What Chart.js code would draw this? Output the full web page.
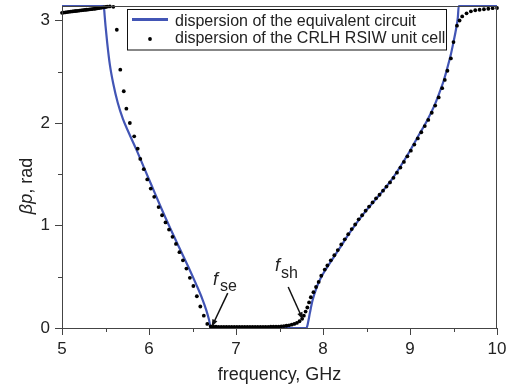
<!DOCTYPE html>
<html>
<head>
<meta charset="utf-8">
<title>CRLH RSIW dispersion</title>
<script src="https://cdn.jsdelivr.net/npm/chart.js@4"></script>
<style>
  body { margin: 0; background: #fff; }
  #wrap { width: 512px; height: 387px; position: relative; }
</style>
</head>
<body>
<div id="wrap"><canvas id="dispChart"></canvas></div>
<script>
// dispersion of the equivalent circuit (solid blue line)
const circuitFreq = [5.00, 5.48, 5.49, 5.50, 5.52, 5.55, 5.59, 5.64, 5.70, 5.77, 5.85, 5.94, 6.03, 6.13, 6.24, 6.35, 6.45, 6.54, 6.61, 6.66, 6.69, 6.71,
  7.81, 7.83, 7.85, 7.88, 7.92, 7.97, 8.03, 8.10, 8.20, 8.30, 8.40, 8.50, 8.60, 8.70, 8.80, 8.90, 9.00, 9.10, 9.20, 9.28, 9.34, 9.39, 9.43, 9.47, 9.50, 9.53, 9.55, 9.56, 10.00];
const circuitBeta = [3.1416, 3.1416, 3.05, 2.95, 2.78, 2.57, 2.38, 2.20, 2.04, 1.90, 1.75, 1.57, 1.39, 1.19, 0.98, 0.78, 0.60, 0.43, 0.29, 0.17, 0.08, 0,
  0, 0.06, 0.15, 0.27, 0.38, 0.48, 0.57, 0.66, 0.79, 0.92, 1.04, 1.15, 1.25, 1.35, 1.46, 1.59, 1.73, 1.88, 2.03, 2.17, 2.30, 2.42, 2.54, 2.67, 2.79, 2.92, 3.03, 3.1416, 3.1416];

// dispersion of the CRLH RSIW unit cell (black dots)
const cellFreq = [5.00, 5.02, 5.04, 5.06, 5.08, 5.10, 5.12, 5.14, 5.16, 5.18, 5.20, 5.22, 5.24, 5.26, 5.28, 5.30, 5.32, 5.34, 5.36, 5.38,
  5.40, 5.42, 5.44, 5.46, 5.48, 5.50, 5.52, 5.55, 5.59,
  5.63, 5.67, 5.71, 5.74, 5.78, 5.83, 5.87, 5.90, 5.94, 5.98, 6.02, 6.06, 6.11, 6.15, 6.19, 6.23, 6.27, 6.31, 6.35, 6.39,
  6.43, 6.47, 6.51, 6.55, 6.59, 6.63, 6.67, 6.71,
  6.74, 6.77, 6.80, 6.83, 6.86, 6.89, 6.92, 6.95, 6.98, 7.01, 7.04, 7.07, 7.10, 7.13, 7.16, 7.19, 7.22, 7.25, 7.28, 7.31,
  7.34, 7.37, 7.40, 7.43, 7.46, 7.49, 7.52, 7.55, 7.58, 7.61, 7.64, 7.67, 7.70, 7.73, 7.76, 7.78, 7.80, 7.82, 7.84, 7.86, 7.89,
  7.92, 7.95, 7.98, 8.02, 8.05, 8.09, 8.13, 8.17, 8.21, 8.25, 8.29, 8.33, 8.37, 8.41, 8.45, 8.49, 8.53, 8.57, 8.61, 8.65,
  8.69, 8.73, 8.77, 8.81, 8.85, 8.89, 8.93, 8.97, 9.01, 9.05, 9.09, 9.13, 9.17, 9.21, 9.25, 9.29, 9.33, 9.37, 9.40, 9.43,
  9.47, 9.50, 9.54, 9.57, 9.60, 9.65, 9.70, 9.75, 9.80, 9.85, 9.90, 9.95, 10.00];
const cellBeta = [3.075, 3.077, 3.080, 3.082, 3.085, 3.087, 3.089, 3.091, 3.093, 3.095, 3.097, 3.099, 3.101, 3.103, 3.105, 3.107, 3.109, 3.111, 3.113, 3.115,
  3.118, 3.120, 3.123, 3.126, 3.129, 3.132, 3.135, 3.137, 3.134,
  2.91, 2.52, 2.31, 2.14, 2.00, 1.87, 1.75, 1.65, 1.55, 1.45, 1.36, 1.28, 1.18, 1.10, 1.03, 0.96, 0.89, 0.82, 0.74, 0.66,
  0.58, 0.49, 0.41, 0.31, 0.21, 0.12, 0.04, 0.015,
  0.012, 0.012, 0.011, 0.011, 0.011, 0.010, 0.010, 0.010, 0.010, 0.010, 0.010, 0.010, 0.010, 0.010, 0.010, 0.010, 0.010, 0.010, 0.010, 0.011,
  0.011, 0.011, 0.012, 0.012, 0.013, 0.014, 0.016, 0.019, 0.022, 0.026, 0.032, 0.040, 0.050, 0.066, 0.090, 0.12, 0.16, 0.20, 0.25, 0.30, 0.35,
  0.40, 0.45, 0.51, 0.57, 0.61, 0.66, 0.71, 0.76, 0.815, 0.865, 0.915, 0.965, 1.01, 1.06, 1.10, 1.145, 1.185, 1.225, 1.265, 1.30,
  1.34, 1.38, 1.42, 1.465, 1.515, 1.565, 1.62, 1.675, 1.73, 1.79, 1.85, 1.91, 1.97, 2.03, 2.10, 2.17, 2.25, 2.34, 2.42, 2.51,
  2.63, 2.79, 2.95, 3.00, 3.04, 3.07, 3.09, 3.10, 3.105, 3.11, 3.115, 3.12, 3.122];

const xTicks = [5, 6, 7, 8, 9, 10];
const yTicks = [0, 1, 2, 3];
const xMinor = [5.5, 6.5, 7.5, 8.5, 9.5];
const yMinor = [0.5, 1.5, 2.5];

const legendLabels = ['dispersion of the equivalent circuit', 'dispersion of the CRLH RSIW unit cell'];

const blue = '#4255b5';
const ink = '#222';
const axisGray = '#444';

function toPoints(xs, ys) {
    return xs.map(function(x, i) { return { x: x, y: ys[i] }; });
}

// frame, minor ticks, axis titles, annotations and legend
const decor = {
    id: 'decor',
    afterDatasetsDraw: function(chart) {
        const c = chart.ctx;
        const a = chart.chartArea;
        const xs = chart.scales.x;
        const ys = chart.scales.y;
        c.save();

        // box around plot
        c.strokeStyle = axisGray;
        c.lineWidth = 1;
        c.strokeRect(a.left + 0.5, a.top + 0.5, a.right - a.left - 1, a.bottom - a.top);

        // minor ticks
        c.beginPath();
        xMinor.forEach(function(v) {
            const px = Math.round(xs.getPixelForValue(v)) + 0.5;
            c.moveTo(px, a.bottom); c.lineTo(px, a.bottom + 4);
        });
        yMinor.forEach(function(v) {
            const py = Math.round(ys.getPixelForValue(v)) + 0.5;
            c.moveTo(a.left, py); c.lineTo(a.left - 4, py);
        });
        c.stroke();

        // x axis title
        c.fillStyle = ink;
        c.font = '18px "Liberation Sans", Arial, sans-serif';
        c.textAlign = 'center';
        c.textBaseline = 'alphabetic';
        c.fillText('frequency, GHz', (a.left + a.right) / 2, 380);

        // y axis title, rotated, "βp" in italic
        c.save();
        c.translate(32, 186);
        c.rotate(-Math.PI / 2);
        c.textAlign = 'left';
        c.font = 'italic 18px "Liberation Sans", Arial, sans-serif';
        const w1 = c.measureText('βp').width;
        c.font = '18px "Liberation Sans", Arial, sans-serif';
        const w2 = c.measureText(', rad').width;
        const start = -(w1 + w2) / 2;
        c.font = 'italic 18px "Liberation Sans", Arial, sans-serif';
        c.fillText('βp', start, 0);
        c.font = '18px "Liberation Sans", Arial, sans-serif';
        c.fillText(', rad', start + w1, 0);
        c.restore();

        // f_se and f_sh labels
        c.textAlign = 'left';
        c.font = 'italic 18px "Liberation Sans", Arial, sans-serif';
        c.fillText('f', 213, 285);
        c.fillText('f', 275, 271);
        c.font = '16px "Liberation Sans", Arial, sans-serif';
        c.fillText('se', 220, 291);
        c.fillText('sh', 281, 278);

        // arrows pointing at the band edges
        function arrow(x0, y0, x1, y1) {
            const p0x = xs.getPixelForValue(x0), p0y = ys.getPixelForValue(y0);
            const p1x = xs.getPixelForValue(x1), p1y = ys.getPixelForValue(y1);
            const ang = Math.atan2(p1y - p0y, p1x - p0x);
            c.strokeStyle = '#111';
            c.lineWidth = 1.5;
            c.beginPath();
            c.moveTo(p0x, p0y);
            c.lineTo(p1x - 5 * Math.cos(ang), p1y - 5 * Math.sin(ang));
            c.stroke();
            c.fillStyle = '#111';
            c.beginPath();
            c.moveTo(p1x, p1y);
            c.lineTo(p1x - 8 * Math.cos(ang - 0.35), p1y - 8 * Math.sin(ang - 0.35));
            c.lineTo(p1x - 8 * Math.cos(ang + 0.35), p1y - 8 * Math.sin(ang + 0.35));
            c.closePath();
            c.fill();
        }
        arrow(6.905, 0.34, 6.72, 0.01);
        arrow(7.60, 0.40, 7.77, 0.08);

        // legend box
        c.fillStyle = '#fff';
        c.fillRect(127.5, 9.5, 319, 40.5);
        c.strokeStyle = '#111';
        c.lineWidth = 1;
        c.strokeRect(127.5, 9.5, 319, 40.5);
        c.strokeStyle = blue;
        c.lineWidth = 3;
        c.beginPath();
        c.moveTo(132, 19.5); c.lineTo(168, 19.5);
        c.stroke();
        c.fillStyle = '#000';
        c.beginPath();
        c.arc(150, 39, 1.9, 0, Math.PI * 2);
        c.fill();
        c.fillStyle = ink;
        c.font = '16px "Liberation Sans", Arial, sans-serif';
        c.fillText(legendLabels[0], 175, 26);
        c.fillText(legendLabels[1], 175, 43);

        c.restore();
    }
};

document.addEventListener('DOMContentLoaded', function() {
    const ctx = document.getElementById('dispChart');
    new Chart(ctx, {
        type: 'scatter',
        data: {
            datasets: [{
                label: legendLabels[1],
                data: toPoints(cellFreq, cellBeta),
                showLine: false,
                pointRadius: 1.9,
                pointBackgroundColor: '#000',
                pointBorderWidth: 0,
                clip: 4
            }, {
                label: legendLabels[0],
                data: toPoints(circuitFreq, circuitBeta),
                showLine: true,
                borderColor: blue,
                borderWidth: 2.2,
                pointRadius: 0,
                cubicInterpolationMode: 'monotone',
                clip: 4
            }]
        },
        options: {
            responsive: true,
            maintainAspectRatio: false,
            animation: false,
            layout: { padding: { top: 6, right: 15, left: 0, bottom: 0 } },
            plugins: {
                legend: { display: false },
                tooltip: { enabled: false }
            },
            scales: {
                x: {
                    type: 'linear',
                    min: 5,
                    max: 10,
                    afterBuildTicks: function(s) { s.ticks = xTicks.map(function(v) { return { value: v }; }); },
                    afterFit: function(s) { s.height = 59; s.paddingLeft = 0; s.paddingRight = 0; },
                    grid: { drawOnChartArea: false, tickLength: 7, color: axisGray },
                    border: { color: axisGray },
                    ticks: {
                        color: ink,
                        padding: 4,
                        maxRotation: 0,
                        font: { family: '"Liberation Sans", Arial, sans-serif', size: 17 }
                    }
                },
                y: {
                    type: 'linear',
                    min: 0,
                    max: Math.PI,
                    afterBuildTicks: function(s) { s.ticks = yTicks.map(function(v) { return { value: v }; }); },
                    afterFit: function(s) { s.width = 62; s.paddingTop = 0; s.paddingBottom = 0; },
                    grid: { drawOnChartArea: false, tickLength: 7, color: axisGray },
                    border: { color: axisGray },
                    ticks: {
                        color: ink,
                        padding: 5,
                        font: { family: '"Liberation Sans", Arial, sans-serif', size: 17 }
                    }
                }
            }
        },
        plugins: [decor]
    });
});
</script>
</body>
</html>
